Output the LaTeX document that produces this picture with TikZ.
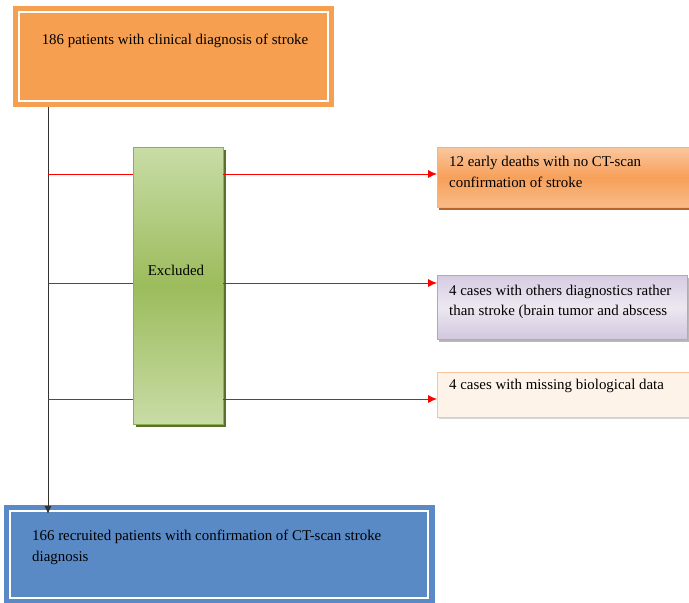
\documentclass[tikz,border=0pt]{standalone}
\usepackage{fontspec}
\setmainfont{Liberation Serif}
\usetikzlibrary{arrows.meta}
\definecolor{orangeA}{HTML}{F79F50}
\definecolor{blueA}{HTML}{5A8AC6}
\definecolor{greenL}{HTML}{C8DCA6}
\definecolor{greenD}{HTML}{9CBC5C}
\definecolor{greenE}{HTML}{8FAE52}
\definecolor{greenS}{HTML}{5A702E}
\definecolor{orL}{HTML}{FAC79E}
\definecolor{orD}{HTML}{F7A05A}
\definecolor{orE}{HTML}{F4B183}
\definecolor{orS}{HTML}{B8642A}
\definecolor{puT}{HTML}{D6CCE2}
\definecolor{puM}{HTML}{ECE8F1}
\definecolor{puB}{HTML}{D2C7DE}
\definecolor{puE}{HTML}{B5A4C8}
\definecolor{peL}{HTML}{FEF3E8}
\definecolor{peE}{HTML}{F9C49A}
\definecolor{shadowc}{HTML}{9A9A9A}
\tikzset{
  txt/.style={font=\fontsize{14.9}{20.5}\selectfont, text=black, inner sep=0},
  redln/.style={draw=red, line width=0.8pt},
  redar/.style={draw=red, line width=0.8pt, -{Latex[length=9pt,width=8pt]}},
}
\begin{document}
\begin{tikzpicture}[x=1pt,y=-1pt]
\useasboundingbox (0,0) rectangle (689,603);
% top box
\node[draw=none, fill=orangeA, minimum width=321pt, minimum height=101pt, anchor=north west, inner sep=0] (top) at (13,6) {};
\draw[white, line width=1.6pt] (19,12) rectangle (328,101);
\node[txt, anchor=center] (toptxt) at (175,41) {186 patients with clinical diagnosis of stroke};
% bottom box
\node[fill=blueA, minimum width=431pt, minimum height=98pt, anchor=north west, inner sep=0] (bot) at (4,505) {};
\draw[white, line width=1.6pt] (10,511) rectangle (428,598);
\node[txt, anchor=west, align=left] (bottxt) at (32,547.5) {166 recruited patients with confirmation of CT-scan stroke\\diagnosis};
% excluded box
\fill[greenS] (136,150) rectangle (226,427);
\node[draw=greenE, line width=0.6pt, minimum width=90pt, minimum height=277pt, anchor=north west, inner sep=0,
  top color=greenL, bottom color=greenL, middle color=greenD] (ex) at (133,147) {};
\node[txt] (extxt) at (176,270) {Excluded};
% right boxes
\fill[orS] (439,150) rectangle (689,210);
\node[draw=orE, line width=0.6pt, minimum width=252pt, minimum height=60pt, anchor=north west, inner sep=0,
  top color=orL, bottom color=orL!70!orD, middle color=orD] (r1) at (437,147) {};
\node[txt, anchor=west, align=left] (r1t) at (449,172) {12 early deaths with no CT-scan\\confirmation of stroke};
\fill[shadowc!70] (439,278) rectangle (689,342);
\node[draw=puE, line width=0.6pt, minimum width=250pt, minimum height=64pt, anchor=north west, inner sep=0,
  top color=puT, bottom color=puB, middle color=puM] (r2) at (437,275) {};
\node[txt, anchor=west, align=left] (r2t) at (449,302) {4 cases with others diagnostics rather\\than stroke (brain tumor and abscess};
\fill[shadowc!40] (439,375) rectangle (689,419);
\node[draw=peE, line width=0.6pt, fill=peL, minimum width=252pt, minimum height=45pt, anchor=north west, inner sep=0] (r3) at (437,372) {};
\node[txt, anchor=west, align=left] (r3t) at (449,386) {4 cases with missing biological data};
% main vertical arrow
\coordinate (vtop) at (48,107);
\coordinate (vbot) at (48,514);
\draw[black!80, line width=0.9pt, -{Latex[length=8pt,width=7pt]}] (vtop) -- (vbot);
% red connectors
\foreach \y/\r in {174/r1,283/r2,399/r3}{
  \coordinate (a) at (48,\y);
  \coordinate (b) at (133,\y);
  \coordinate (c) at (223,\y);
  \draw[redln] (a) -- (b);
  \draw[redar] (c) -- (\r.west |- c);
}
\end{tikzpicture}
\end{document}
